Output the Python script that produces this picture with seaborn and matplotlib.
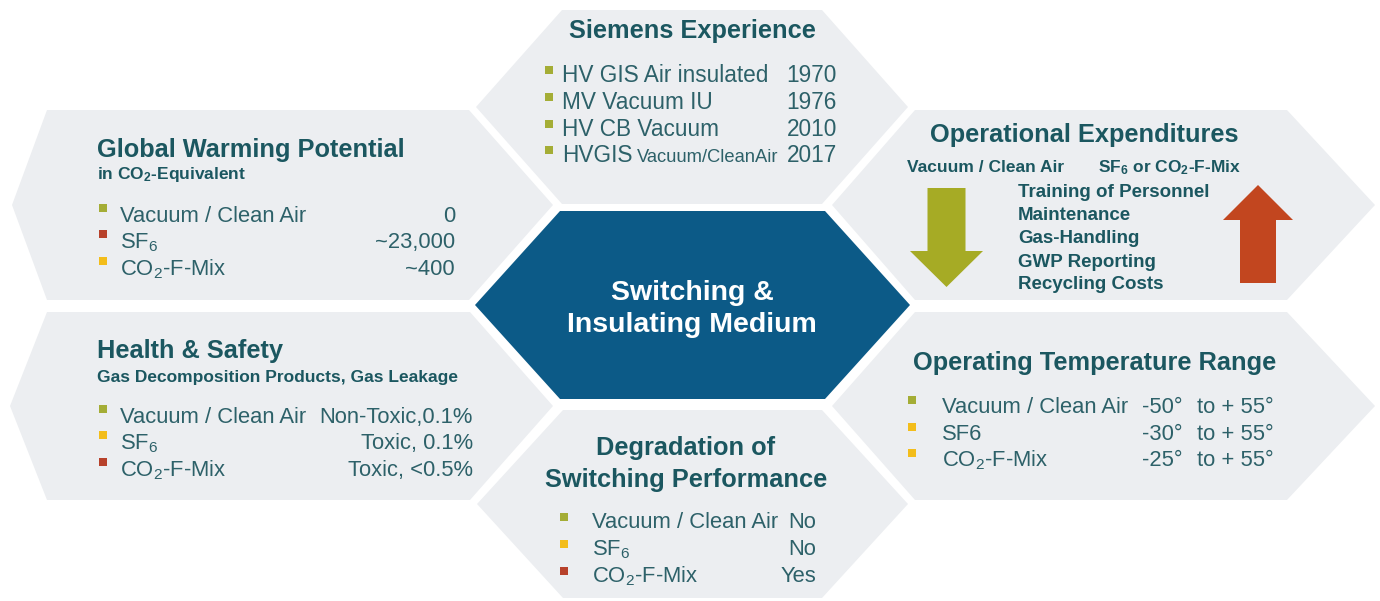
import matplotlib.pyplot as plt
import seaborn as sns
import pandas as pd
from matplotlib.patches import Polygon, FancyArrow

# Inhalte (Texte / Werte aus der Grafik)
SF6 = r"SF$_\mathregular{6}$"
CO2_MIX = r"CO$_\mathregular{2}$-F-Mix"

center_lines = ["Switching &", "Insulating Medium"]

exp_title = "Siemens Experience"
exp_items = ["HV GIS Air insulated", "MV Vacuum IU", "HV CB Vacuum", "HVGIS"]
exp_suffix = ["", "", "", "Vacuum/CleanAir"]
exp_years = ["1970", "1976", "2010", "2017"]
exp_rating = ["low", "low", "low", "low"]

gwp_title = "Global Warming Potential"
gwp_subtitle = r"in CO$_\mathregular{2}$-Equivalent"
gwp_media = ["Vacuum / Clean Air", SF6, CO2_MIX]
gwp_values = ["0", "~23,000", "~400"]
gwp_rating = ["low", "high", "mid"]

hs_title = "Health & Safety"
hs_subtitle = "Gas Decomposition Products, Gas Leakage"
hs_media = ["Vacuum / Clean Air", SF6, CO2_MIX]
hs_values = ["Non-Toxic,0.1%", "Toxic, 0.1%", "Toxic, <0.5%"]
hs_rating = ["low", "mid", "high"]

deg_title = ["Degradation of", "Switching Performance"]
deg_media = ["Vacuum / Clean Air", SF6, CO2_MIX]
deg_values = ["No", "No", "Yes"]
deg_rating = ["low", "mid", "high"]

opex_title = "Operational Expenditures"
opex_left = "Vacuum / Clean Air"
opex_right = SF6 + r" or CO$_\mathregular{2}$-F-Mix"
opex_items = ["Training of Personnel", "Maintenance", "Gas-Handling",
              "GWP Reporting", "Recycling Costs"]

temp_title = "Operating Temperature Range"
temp_media = ["Vacuum / Clean Air", "SF6", CO2_MIX]
temp_min = [-50, -30, -25]
temp_max = [55, 55, 55]
temp_rating = ["low", "mid", "mid"]

# Farben
PANEL_C = "#eceef1"
CENTER_C = "#0c5a87"
TITLE_C = "#1b5760"
TEXT_C = "#2d6169"
MARK_COLORS = {"low": "#a4ad36", "high": "#b7412b", "mid": "#f3bd1b"}
ARROW_DOWN_C = "#a6ab25"
ARROW_UP_C = "#c2461f"

# Schriftgroessen
TITLE = 18.3
SUB = 12.5
BODY = 15.8
LIST = 13.5
CENTER = 20.5

# Layout in Pixeln: cy, h, linke Spitze, linke Ecke, rechte Ecke, rechte Spitze
shapes = {
    "exp": (107, 97, 476, 562, 822, 908),
    "gwp": (205, 95, 12, 47, 469, 553),
    "opex": (205, 95, 832, 915, 1287, 1375),
    "health": (406, 94, 10, 47, 470, 553),
    "temp": (406, 94, 832, 915, 1287, 1375),
    "deg": (504, 94, 477, 563, 822, 908),
}
center_shape = (305, 94, 475, 560, 825, 910)


def draw_shape(ax, cy, h, lt, lc, rc, rt, color):
    pts = [(lt, cy), (lc, cy - h), (rc, cy - h), (rt, cy), (rc, cy + h), (lc, cy + h)]
    ax.add_patch(Polygon(pts, closed=True, facecolor=color, edgecolor="none"))


def draw_rows(ax, labels, baselines, x_text, values=None, x_value=None, size=BODY):
    for i, (lab, yb) in enumerate(zip(labels, baselines)):
        ax.text(x_text, yb, lab, fontsize=size, color=TEXT_C, ha="left", va="baseline")
        if values is not None:
            ax.text(x_value, yb, values[i], fontsize=size, color=TEXT_C,
                    ha="right", va="baseline")


sns.set_theme(style="white")
plt.rcParams["font.family"] = ["Liberation Sans", "DejaVu Sans"]
plt.rcParams["mathtext.fontset"] = "custom"
plt.rcParams["mathtext.rm"] = "Liberation Sans"
plt.rcParams["mathtext.it"] = "Liberation Sans:italic"
plt.rcParams["mathtext.bf"] = "Liberation Sans:bold"

fig = plt.figure(figsize=(13.8, 6.01), dpi=100)
ax = fig.add_axes([0, 0, 1, 1])

for key, geo in shapes.items():
    draw_shape(ax, *geo, PANEL_C)
draw_shape(ax, *center_shape, CENTER_C)

bullets = []

# Mitte
for line, yb in zip(center_lines, [300, 332]):
    ax.text(692, yb, line, fontsize=CENTER, color="white", fontweight="bold",
            ha="center", va="baseline")

# Siemens Experience
ax.text(692, 38, exp_title, fontsize=TITLE, color=TITLE_C, fontweight="bold",
        ha="center", va="baseline")
exp_base = [82, 109, 136, 162]
draw_rows(ax, exp_items, exp_base, 562, exp_years, 837, size=16.3)
ax.text(637, exp_base[3], exp_suffix[3], fontsize=13.2, color=TEXT_C, ha="left", va="baseline")
bullets += [(549, y - 12, r) for y, r in zip(exp_base, exp_rating)]

# Global Warming Potential
ax.text(97, 157, gwp_title, fontsize=TITLE, color=TITLE_C, fontweight="bold", va="baseline")
ax.text(97, 179, gwp_subtitle, fontsize=SUB, color=TITLE_C, fontweight="bold", va="baseline")
gwp_base = [222, 248, 275]
draw_rows(ax, gwp_media, gwp_base, 120, gwp_values, 455)
bullets += [(103, y - 14, r) for y, r in zip(gwp_base, gwp_rating)]

# Health & Safety
ax.text(97, 358, hs_title, fontsize=TITLE, color=TITLE_C, fontweight="bold", va="baseline")
ax.text(97, 382, hs_subtitle, fontsize=SUB, color=TITLE_C, fontweight="bold", va="baseline")
hs_base = [423, 449, 476]
draw_rows(ax, hs_media, hs_base, 120, hs_values, 473)
bullets += [(103, y - 14, r) for y, r in zip(hs_base, hs_rating)]

# Degradation of Switching Performance
for line, yb in zip(deg_title, [455, 487]):
    ax.text(686, yb, line, fontsize=TITLE, color=TITLE_C, fontweight="bold",
            ha="center", va="baseline")
deg_base = [528, 555, 582]
draw_rows(ax, deg_media, deg_base, 592, deg_values, 816)
bullets += [(564, y - 11, r) for y, r in zip(deg_base, deg_rating)]

# Operational Expenditures
ax.text(930, 142, opex_title, fontsize=TITLE, color=TITLE_C, fontweight="bold", va="baseline")
ax.text(907, 172, opex_left, fontsize=SUB, color=TITLE_C, fontweight="bold", va="baseline")
ax.text(1098, 172, opex_right, fontsize=SUB, color=TITLE_C, fontweight="bold", va="baseline")
for item, yb in zip(opex_items, [197, 220, 243, 267, 289]):
    ax.text(1018, yb, item, fontsize=LIST, color=TITLE_C, fontweight="bold", va="baseline")
ax.add_patch(FancyArrow(946.5, 188, 0, 99, width=38, head_width=73, head_length=36,
                        length_includes_head=True, color=ARROW_DOWN_C, linewidth=0))
ax.add_patch(FancyArrow(1258, 283, 0, -98, width=36, head_width=70, head_length=35,
                        length_includes_head=True, color=ARROW_UP_C, linewidth=0))

# Operating Temperature Range
ax.text(913, 370, temp_title, fontsize=TITLE, color=TITLE_C, fontweight="bold", va="baseline")
temp_base = [413, 440, 466]
draw_rows(ax, temp_media, temp_base, 942)
for lo, hi, yb in zip(temp_min, temp_max, temp_base):
    ax.text(1142, yb, f"{lo}°", fontsize=BODY, color=TEXT_C, va="baseline")
    ax.text(1197, yb, f"to + {hi}°", fontsize=BODY, color=TEXT_C, va="baseline")
bullets += [(912, y - 13, r) for y, r in zip(temp_base, temp_rating)]

# Aufzaehlungszeichen
marks = pd.DataFrame(bullets, columns=["x", "y", "rating"])
sns.scatterplot(data=marks, x="x", y="y", hue="rating", palette=MARK_COLORS,
                marker="s", s=38, linewidth=0, legend=False, ax=ax, zorder=3)

ax.set_xlim(0, 1380)
ax.set_ylim(601, 0)
ax.axis("off")

fig.savefig("out.png", dpi=100, facecolor="white")
plt.close(fig)
